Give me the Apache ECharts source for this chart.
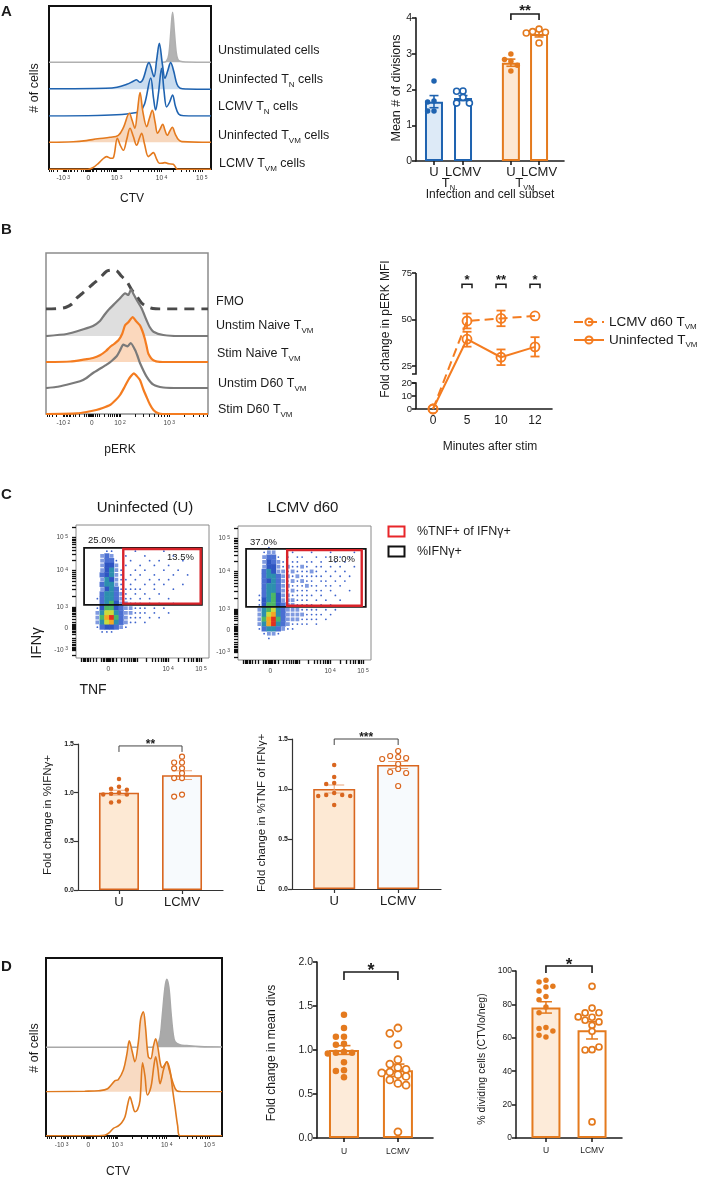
<!DOCTYPE html>
<html>
<head>
<meta charset="utf-8">
<title>Figure</title>
<script src="https://cdn.jsdelivr.net/npm/echarts@6/dist/echarts.min.js"></script>
<style>
  html, body { margin: 0; padding: 0; background: #fff; }
  #main { width: 703px; height: 1185px; }
</style>
</head>
<body>
<div id="main"></div>
<script>
var FONT = '"Liberation Sans", Arial, Helvetica, sans-serif'
var INK = '#1b1b1b'
var BLUE = '#1f63b0'
var OR_A = '#e47a1e'
var OR_B = '#f47c20'
var OR_C = '#d9661f'

// ---------- A: CTV histograms, [x as % of plot width, height above own baseline]
var ctvUnstim = [[0, 0], [70, 0], [72.5, 1], [74, 8], [75.2, 30], [76.3, 50], [77.3, 32], [78.5, 10], [79.5, 3], [81, 1], [85, 0.3], [100, 0]]
var ctvUninfTN = [[0, 0.5], [35, 1], [42, 2], [48, 5], [52, 8], [54, 9.5], [56, 7], [58, 10], [61.7, 26.7], [64.8, 12.7], [66.5, 30], [68.1, 46], [70, 25], [71.6, 11], [73.2, 18], [75.1, 26.7], [77, 18], [79, 5], [81, 1], [85, 0.3], [100, 0]]
var ctvLcmvTN = [[0, 0], [30, 0.5], [45, 1.5], [52, 3], [56, 4.5], [59, 12], [62.8, 38], [64.5, 18], [65.8, 6], [67.5, 22], [69.5, 47.7], [71, 25], [72.6, 9], [74.5, 14], [76.3, 21], [78, 10], [80, 2], [83, 0.3], [100, 0]]
var ctvUninfTVM = [[0, 0], [15, 0.5], [23, 1.7], [30, 3.5], [37.7, 5], [42.8, 7], [46, 15], [49.6, 29], [51.3, 22], [53, 14], [54.5, 30], [56.2, 49.7], [58, 30], [60.3, 15.7], [62, 24], [63.8, 32], [65.5, 20], [67, 9], [68.5, 13], [70.2, 18], [71.6, 12], [73, 7], [74.5, 11], [76.1, 15], [78, 8], [80, 2.5], [82, 0.7], [100, 0]]
var ctvLcmvTVM = [[0, 0], [24, 0], [27, 1.5], [30.5, 6], [33, 10], [35.6, 12.7], [38, 11], [39.7, 11.5], [42.2, 31], [44, 24], [45.9, 19], [48, 30], [50, 41], [52, 33], [54.1, 24], [55.8, 31], [57.2, 36], [59, 25], [61.3, 12.7], [63, 15], [64.4, 16.7], [66.5, 10], [68.1, 6], [70, 6.2], [71.6, 6.7], [74, 5.5], [76.7, 5], [78.8, 0.5], [80, 0], [100, 0]]
var ctvTickLabels = ['-10³', '0', '10³', '10⁴', '10⁵']

// ---------- A: mean number of divisions
var divCats = ['U', 'LCMV', 'U', 'LCMV']
var divSubsets = ['N', 'VM']
var divMean = [1.66, 1.76, 2.75, 3.55]
var divSem = [0.17, 0.07, 0.1, 0.08]
var divPts = [
  [2.24, 1.68, 1.65, 1.4, 1.4],
  [1.96, 1.95, 1.78, 1.62, 1.62],
  [2.99, 2.84, 2.79, 2.68, 2.52],
  [3.69, 3.62, 3.6, 3.58, 3.3]
]

// ---------- B: pERK histograms
var perkFMO = [[0, 0], [8, 0.5], [12, 1.5], [16, 5], [19, 11], [22, 15], [25, 19.3], [29, 25], [33.3, 31], [37.4, 37.7], [40.5, 39], [43.6, 38.3], [46.5, 33], [49.8, 27.7], [53, 19], [56, 12.7], [59, 6], [62, 2.7], [66, 0.5], [70, 0], [100, 0]]
var perkUnstimNaive = [[0, 0], [12.8, 2], [23, 6.7], [29, 10], [33.3, 15], [36, 21], [38.5, 26], [42.6, 32.7], [45.7, 37.7], [48.8, 42.7], [50.8, 41], [52.5, 46.7], [54, 42], [56, 36], [59, 27.7], [62, 16], [64, 9], [66.3, 4.3], [72.4, 1], [82.7, 0], [100, 0]]
var perkStimNaive = [[0, 0], [15, 0.5], [23, 2.3], [29, 4], [33.3, 6.7], [37, 11], [39.5, 15], [42, 18], [44.7, 21.7], [47, 28], [48.8, 36.7], [51, 40], [53.5, 45], [55.5, 41], [58, 36.7], [59.5, 31], [61, 23.3], [62.2, 15], [63.2, 8.3], [66.3, 1.7], [72, 0], [100, 0]]
var perkUnstimD60 = [[0, 0], [6, 1], [12.8, 3.3], [21, 6.7], [25, 10], [29, 15], [33, 19], [37.4, 23.3], [40.5, 27], [43.6, 31.7], [45.5, 37], [47.7, 43.3], [50.4, 41.7], [52.3, 45], [55, 38], [56.5, 32], [58, 25], [62, 11.7], [66.3, 3.3], [72.4, 0.5], [82.7, 0], [100, 0]]
var perkStimD60 = [[0, 0], [19, 0.7], [25, 2], [31, 4], [35, 6], [39.5, 9], [43, 14], [45.7, 19], [48.5, 27], [50.8, 34], [52.5, 38], [54.3, 40.7], [56, 38], [58, 34], [60, 25], [62, 17.3], [64, 10], [66.3, 4], [69.3, 0.7], [72, 0], [100, 0]]
var perkTickLabels = ['-10²', '0', '10²', '10³']

// ---------- B: pERK time course
var pTimes = ['0', '5', '10', '12']
var pLcmv = [0, 49.2, 50.6, 51.9]
var pLcmvErr = [0, 4, 4.2, 0]
var pUninf = [0, 39.4, 29.7, 35.3]
var pUninfErr = [0, 4, 4.2, 5.2]
var pTicks = [0, 10, 20, 25, 50, 75]
var pSig = ['*', '**', '*']

// ---------- C: IFNg / TNF density (rows top to bottom, 0 = empty, 9 = densest)
var flowU = [
  '0000000000000000000000000000', '0000000000000000000000000000', '0000000000000000000000000000',
  '0000000000000000000000000000', '0000000000000000000000000000',
  '0000001100001000001000000000', '0000023200100010000010000000', '0000023310010001010000100000',
  '0000024420100100100100000000', '0000024521001010001001000000', '0000034521010100100010010000',
  '0000025421101001010100000000', '0000035521010010101000100000', '0000024531111100100010000000',
  '0000035532101010010000000000', '0000135532110101000100000000', '0000035642211101010010000000',
  '0000146643221110101000000000', '0000257753221110100100000000', '0000268963211101010000000000',
  '0000257853211010000000000000', '0000134432100000000000000000', '0000011100000000000000000000',
  '0000000000000000000000000000', '0000000000000000000000000000', '0000000000000000000000000000',
  '0000000000000000000000000000', '0000000000000000000000000000'
]
var flowL = [
  '0000000000000000000000000000', '0000000000000000000000000000', '0000000000000000000000000000',
  '0000000000000000000000000000',
  '0000001000000000000000000000', '0000012200010001000100001000', '0000023310101100101001010000',
  '0000024321011011010010100000', '0000024421211210110101001000', '0000035422121112101010100000',
  '0000035532212111110101010000', '0000034532121211011010100000', '0000035532211121101101000000',
  '0000035532121110110100010000', '0000135642211111010010000000', '0000145642221110101001000000',
  '0000146643221111010100000000', '0000256753222111101010000000', '0000257853222211110100000000',
  '0000268963222111101000000000', '0000258953211110100000000000', '0000135532110000000000000000',
  '0000012210000000000000000000', '0000001000000000000000000000',
  '0000000000000000000000000000', '0000000000000000000000000000', '0000000000000000000000000000',
  '0000000000000000000000000000'
]
// gates [x1, y1, x2, y2] in density-cell units (y from bottom)
var gateIFNg = [[1.7, 11.2, 26.5, 23.2], [1.7, 11.1, 26.9, 23.2]]
var gateTNF = [[9.7, 11.2, 26.5, 23.2], [10.1, 11.1, 26.3, 23.2]]
var pctIFNg = ['25.0%', '37.0%']
var pctTNF = ['13.5%', '18.0%']
var flowYLabels = ['-10³', '0', '10³', '10⁴', '10⁵']
var flowXLabels = ['0', '10⁴', '10⁵']

// ---------- C: fold change bars
var ifngU = [1.14, 1.06, 1.04, 1.03, 1.0, 0.99, 0.98, 0.98, 0.91, 0.9]
var ifngL = [1.37, 1.31, 1.31, 1.25, 1.25, 1.2, 1.15, 1.15, 0.98, 0.96]
var ifngMean = [1.0, 1.18]
var ifngSem = [0.025, 0.045]
var tnfU = [1.24, 1.12, 1.06, 1.05, 0.96, 0.94, 0.94, 0.93, 0.93, 0.84]
var tnfL = [1.38, 1.33, 1.32, 1.31, 1.3, 1.25, 1.2, 1.17, 1.16, 1.03]
var tnfMean = [1.0, 1.24]
var tnfSem = [0.04, 0.035]

// ---------- D
var ctvD_unstim = [[0, 0], [60, 0], [63, 2], [64.8, 10], [66, 30], [67.5, 58], [68.6, 68], [69.8, 60], [71, 35], [72.2, 14], [73.3, 5.7], [76, 2.5], [80, 1.7], [87.5, 0.7], [100, 0.3]]
var ctvD_uninf = [[0, 0], [22, 0.5], [30, 1], [35, 3], [39.2, 11], [41, 12], [44, 22], [46, 38], [47.3, 51], [49, 40], [50.5, 30], [52.5, 50], [53.8, 73], [55.3, 80], [56.5, 65], [58.1, 35], [59.5, 33], [61, 45], [62.3, 53], [63.5, 45], [65, 28], [66, 24], [67.5, 27], [68.6, 30], [70, 22], [72.3, 8], [74.2, 1], [77, 0], [100, 0]]
var ctvD_lcmv = [[0, 0], [30, 0], [33.5, 0.5], [36, 3], [38.3, 7.3], [41, 9.7], [43, 13], [44.9, 19], [46.5, 32], [47.7, 39], [49, 32], [50.6, 24], [52, 26], [53.4, 35], [54.9, 73], [56.2, 60], [57.6, 40.7], [59, 45], [60, 52], [61.3, 70], [62.3, 79], [63.5, 68], [64.8, 52], [65.8, 58], [66.7, 65.7], [68.6, 74], [69.8, 70], [70.8, 62], [72, 45], [73.3, 29], [74.8, 10], [76.1, 0], [100, 0]]
var divsU = [1.4, 1.25, 1.15, 1.15, 1.07, 1.06, 0.98, 0.97, 0.97, 0.96, 0.86, 0.77, 0.76, 0.69]
var divsL = [1.25, 1.19, 1.06, 0.89, 0.84, 0.8, 0.78, 0.75, 0.74, 0.72, 0.7, 0.66, 0.62, 0.6, 0.07]
var divsMean = [1.0, 0.77]
var divsSem = [0.05, 0.07]
var dividU = [94.4, 93.4, 90.4, 90.8, 88.0, 84.8, 82.8, 78.4, 75.0, 66.1, 65.5, 64.1, 60.5, 61.5]
var dividL = [90.8, 77.8, 74.9, 75.0, 72.3, 72.5, 70.5, 69.5, 67.5, 63.9, 52.9, 52.7, 54.5, 9.6]
var dividMean = [78.2, 64.5]
var dividSem = [3.4, 5.2]

var grids = [], xAxes = [], yAxes = [], series = [], G = []
function addGrid(g) { grids.push(Object.assign({show: false}, g)); return grids.length - 1 }
function addX(o) { xAxes.push(o); return xAxes.length - 1 }
function addY(o) { yAxes.push(o); return yAxes.length - 1 }
function off(gi, min, max) { return {type: 'value', gridIndex: gi, min: min, max: max, show: false} }
function nearest(arr, v) {
  var b = 0
  arr.forEach(function (a, i) { if (Math.abs(a - v) < Math.abs(arr[b] - v)) b = i })
  return b
}
function supLabel(s) {
  var m = s.match(/^(-?10)(.)$/)
  if (!m) return '{n|' + s + '}'
  return '{n|' + m[1] + '}{e|' + ({'²': 2, '³': 3, '⁴': 4, '⁵': 5})[m[2]] + '}'
}
var supRich = {n: {fontSize: 6.5, color: '#444', fontFamily: FONT}, e: {fontSize: 5, color: '#444', fontFamily: FONT, verticalAlign: 'top', padding: [0, 0, 0, 1.5]}}

// minor ticks of a cytometry (biexponential) axis
function cytoTicks(neg, zero, e1, ups, max) {
  var out = [zero], fr = [0.01, 0.02, 0.04, 0.06, 0.1, 0.2, 0.3, 0.4, 0.5, 0.6, 0.7, 0.8, 0.9]
  fr.forEach(function (f) {
    var g = Math.log10(1 + 9 * f)
    out.push(zero + (e1 - zero) * g)
    if (neg !== null) out.push(zero - (zero - neg) * g)
  })
  if (neg !== null) for (var j = 1; j < 10; j++) out.push(neg - Math.log10(j) * (zero - neg) * 0.8)
  var dec = [e1].concat(ups)
  for (var i = 0; i < dec.length; i++) {
    var w = i < dec.length - 1 ? dec[i + 1] - dec[i] : dec[i] - dec[i - 1]
    for (var k = 1; k < 10; k++) out.push(dec[i] + Math.log10(k) * w)
  }
  return out.filter(function (v) { return v >= 0 && v <= max })
}

function histPanel(box, curves, ax) {
  curves.forEach(function (c, i) {
    var h = c.base - box.top
    var gi = addGrid({left: box.left, top: box.top, width: box.width, height: h})
    var xi = addX(off(gi, 0, 100)), yi = addY(off(gi, 0, h))
    series.push({type: 'line', xAxisIndex: xi, yAxisIndex: yi, data: c.data, smooth: c.smooth || 0.35,
      symbol: 'none', silent: true, z: 3 + i,
      lineStyle: {color: c.line, width: c.width || 1.6, type: c.dash || 'solid'},
      areaStyle: c.fill ? {color: c.fill, opacity: 1} : undefined})
  })
  var fg = addGrid({show: true, left: box.left, top: box.top, width: box.width, height: box.height,
    borderColor: box.border, borderWidth: box.bw, backgroundColor: 'transparent'})
  addX({type: 'value', gridIndex: fg, min: 0, max: 100, position: 'bottom',
    axisLine: {show: false}, splitLine: {show: false},
    axisTick: {show: true, customValues: ax.ticks, length: 3, lineStyle: {color: '#111', width: 1}},
    axisLabel: {customValues: ax.pos, formatter: function (v) { return supLabel(ax.labels[nearest(ax.pos, v)]) },
      rich: supRich, margin: 6}})
  addY(off(fg, 0, 1))
}

function swarm(vals, gap) {
  var placed = [], order = [0, -1, 1, -2, 2, -3, 3, -4, 4]
  return vals.map(function (v) {
    for (var k = 0; k < order.length; k++) {
      var s = order[k]
      var free = placed.every(function (p) { return p.s !== s || Math.abs(p.v - v) >= gap })
      if (free) { placed.push({s: s, v: v}); return s }
    }
    return 0
  })
}

function bracket(xi, yi, rows, labels, st) {
  series.push({type: 'custom', xAxisIndex: xi, yAxisIndex: yi, data: rows, silent: true, z: 20, clip: false,
    renderItem: function (p, api) {
      var a = api.coord([api.value(0), api.value(2)]), b = api.coord([api.value(1), api.value(2)])
      var x1 = a[0] - (st.half || 0), x2 = b[0] + (st.half || 0), y = a[1]
      return {type: 'group', children: [
        {type: 'polyline', shape: {points: [[x1, y + st.drop], [x1, y], [x2, y], [x2, y + st.drop]]},
          style: {stroke: st.color, lineWidth: st.width, fill: null}},
        {type: 'text', style: {text: labels[p.dataIndex], x: (x1 + x2) / 2, y: y + st.dy, align: 'center',
          verticalAlign: 'bottom', fill: INK, font: st.font}}
      ]}
    }})
}

function barPanel(c) {
  var gi = addGrid(c.box)
  var axStyle = {color: c.axis.color, width: c.axis.width}
  var xi = addX({type: 'value', gridIndex: gi, min: c.x[0], max: c.x[1],
    axisLine: {onZero: false, lineStyle: axStyle},
    axisTick: {customValues: c.pos, length: 4, lineStyle: axStyle},
    axisLabel: {customValues: c.pos, formatter: function (v) { return c.cats[nearest(c.pos, v)] },
      fontSize: c.cat.size, fontFamily: FONT, color: INK, margin: c.cat.margin},
    splitLine: {show: false}})
  var yi = addY({type: 'value', gridIndex: gi, min: c.y[0], max: c.y[1], interval: c.y[2],
    axisLine: {show: true, onZero: false, lineStyle: axStyle},
    axisTick: {show: true, length: 4, lineStyle: axStyle},
    axisLabel: {fontSize: c.tick.size, fontWeight: c.tick.weight || 'normal', fontFamily: FONT, color: INK,
      margin: 4, formatter: c.tick.fmt},
    splitLine: {show: false}})
  series.push({type: 'bar', xAxisIndex: xi, yAxisIndex: yi, barWidth: c.barW, silent: true, z: 2,
    data: c.pos.map(function (p, i) {
      return {value: [p, c.means[i]], itemStyle: {color: c.fills[i], borderColor: c.strokes[i], borderWidth: c.lw}}
    })})
  series.push({type: 'custom', xAxisIndex: xi, yAxisIndex: yi, silent: true, z: 3,
    data: c.pos.map(function (p, i) { return [p, c.means[i] - c.sems[i], c.means[i] + c.sems[i]] }),
    renderItem: function (params, api) {
      var lo = api.coord([api.value(0), api.value(1)]), hi = api.coord([api.value(0), api.value(2)])
      var col = c.errColor || c.strokes[params.dataIndex], h = c.cap / 2
      function st() { return {stroke: col, lineWidth: c.errW} }
      return {type: 'group', children: [
        {type: 'line', shape: {x1: lo[0], y1: lo[1], x2: hi[0], y2: hi[1]}, style: st()},
        {type: 'line', shape: {x1: hi[0] - h, y1: hi[1], x2: hi[0] + h, y2: hi[1]}, style: st()},
        {type: 'line', shape: {x1: lo[0] - h, y1: lo[1], x2: lo[0] + h, y2: lo[1]}, style: st()}
      ]}
    }})
  c.pts.forEach(function (vals, i) {
    var slots = swarm(vals, c.gap)
    series.push({type: 'scatter', xAxisIndex: xi, yAxisIndex: yi, silent: true, z: 4,
      symbolSize: c.hollow[i] ? c.dot + 0.5 : c.dot,
      itemStyle: c.hollow[i] ? {color: '#fff', borderColor: c.strokes[i], borderWidth: c.ring, opacity: 1}
        : {color: c.strokes[i], opacity: 1},
      data: vals.map(function (v, k) { return [c.pos[i] + slots[k] * c.step, v] })})
  })
  if (c.sig) bracket(xi, yi, c.sig, c.sigLab, c.sigStyle)
  return {grid: gi, x: xi, y: yi}
}

// density colours: sparse cells are drawn as single events, dense ones as filled cells
var DENS = ['', '#3d63cc', '#7f9ae0', '#4a6fd2', '#2e55c2', '#2c8fae', '#4cb765', '#cbdb3a', '#f3a623', '#e2301e']
function flowPanel(box, rows, k) {
  var n = 28, cw = box.width / n, ch = box.height / n
  var gi = addGrid({show: true, left: box.left, top: box.top, width: box.width, height: box.height,
    borderColor: '#8a8a8a', borderWidth: 1})
  var tickSt = {color: '#111', width: 1.3}
  var xPos = [6.8, 19.4, 26.3], yPos = [1.7, 6.3, 10.6, 18.5, 25.4]
  var xi = addX({type: 'value', gridIndex: gi, min: 0, max: n, axisLine: {show: false}, splitLine: {show: false},
    axisTick: {customValues: cytoTicks(1.2, 6.8, 12.8, [19.4, 26.3], n), length: 4, lineStyle: tickSt},
    axisLabel: {customValues: xPos, formatter: function (v) { return supLabel(flowXLabels[nearest(xPos, v)]) },
      rich: supRich, margin: 8}})
  var yi = addY({type: 'value', gridIndex: gi, min: 0, max: n, axisLine: {show: false}, splitLine: {show: false},
    axisTick: {customValues: cytoTicks(1.7, 6.3, 10.6, [18.5, 25.4], n), length: 4, lineStyle: tickSt},
    axisLabel: {customValues: yPos, formatter: function (v) { return supLabel(flowYLabels[nearest(yPos, v)]) },
      rich: supRich, margin: 8}})
  var cells = []
  rows.forEach(function (row, r) {
    for (var c = 0; c < row.length; c++) {
      var d = +row[c]
      if (d) cells.push([c + 0.5, n - r - 0.5, d])
    }
  })
  series.push({type: 'scatter', xAxisIndex: xi, yAxisIndex: yi, data: cells, silent: true, z: 2,
    symbol: function (v) { return v[2] === 1 ? 'circle' : 'rect' },
    symbolSize: function (v) { return v[2] === 1 ? 1.8 : v[2] === 2 ? [cw * 0.8, ch * 0.8] : [cw + 0.4, ch + 0.4] },
    itemStyle: {opacity: 1, color: function (p) { return DENS[p.value[2]] }}})
  series.push({type: 'custom', xAxisIndex: xi, yAxisIndex: yi, silent: true, z: 5, clip: false,
    data: [gateIFNg[k], gateTNF[k]],
    renderItem: function (p, api) {
      var a = api.coord([api.value(0), api.value(3)]), b = api.coord([api.value(2), api.value(1)])
      var red = p.dataIndex === 1, inset = red ? 1.2 : 0
      var rect = {type: 'rect', shape: {x: a[0] + inset, y: a[1] + inset, width: b[0] - a[0] - 2 * inset, height: b[1] - a[1] - 2 * inset},
        style: {fill: null, stroke: red ? '#d8232a' : '#141414', lineWidth: red ? 2.4 : 1.8}}
      var t = red
        ? {type: 'text', style: {text: pctTNF[k], x: b[0] - 8, y: a[1] + 5, align: 'right', verticalAlign: 'top', fill: INK, font: '9.5px ' + FONT}}
        : {type: 'text', style: {text: pctIFNg[k], x: a[0] + 4, y: a[1] - 2, align: 'left', verticalAlign: 'bottom', fill: INK, font: '9.5px ' + FONT}}
      return {type: 'group', children: [rect, t]}
    }})
}

function label(x, y, text, size, o) {
  o = o || {}
  var style = {text: text, x: 0, y: 0, fill: INK, fontSize: size, fontFamily: FONT, fontWeight: o.bold ? 'bold' : 'normal',
    align: o.align || 'left', verticalAlign: 'middle'}
  if (o.sub) style.rich = {
    a: {fontSize: size, fontFamily: FONT, fill: INK},
    s: {fontSize: Math.round(size * 0.6), fontFamily: FONT, fill: INK, verticalAlign: 'bottom', padding: [0, 0, -2, 0]}
  }
  G.push({type: 'text', x: x, y: y, rotation: o.rot ? Math.PI / 2 : 0, silent: true, style: style})
}

// ================= Panel A
histPanel({left: 49, top: 6, width: 162, height: 163, border: '#111', bw: 2}, [
  {data: ctvUnstim, base: 62.3, line: '#b0b0b0', fill: '#b3b3b3'},
  {data: ctvUninfTN, base: 89.3, line: BLUE, fill: '#c9dcef'},
  {data: ctvLcmvTN, base: 116, line: BLUE},
  {data: ctvUninfTVM, base: 142.3, line: OR_A, fill: '#f7d7bd'},
  {data: ctvLcmvTVM, base: 169.3, line: OR_A}
], {pos: [8.8, 24.3, 41.8, 69.5, 94.3], labels: ctvTickLabels, ticks: cytoTicks(8.8, 24.3, 41.8, [69.5, 94.3], 100)})

var aBar = barPanel({
  box: {left: 416, top: 18, width: 148, height: 143},
  x: [0.38, 5.48], y: [0, 4, 1], pos: [1, 2, 3.65, 4.62], cats: divCats,
  means: divMean, sems: divSem, pts: divPts,
  fills: ['#ddeaf7', '#ffffff', '#fde8d4', '#ffffff'], strokes: [BLUE, BLUE, OR_A, OR_A],
  hollow: [false, true, false, true],
  barW: 18, lw: 2, dot: 5.5, ring: 1.6, gap: 0.16, step: 0.22, cap: 9, errW: 1.6,
  axis: {color: INK, width: 1.6}, tick: {size: 10.5}, cat: {size: 13, margin: 5},
  sig: [[3.65, 4.62, 4.11]], sigLab: ['**'], sigStyle: {color: INK, width: 1.6, drop: 6, dy: 4, font: 'bold 15px ' + FONT}
})
addX({type: 'value', gridIndex: aBar.grid, min: 0.38, max: 5.48, position: 'bottom',
  axisLine: {show: false}, axisTick: {show: false}, splitLine: {show: false},
  axisLabel: {customValues: [1.5, 4.13], margin: 16,
    formatter: function (v) { return '{a|T}{s|' + divSubsets[nearest([1.5, 4.13], v)] + '}' },
    rich: {a: {fontSize: 13, fontFamily: FONT, color: INK}, s: {fontSize: 7.5, fontFamily: FONT, color: INK, verticalAlign: 'bottom', padding: [0, 0, -2, 0]}}}})

label(1, 12, 'A', 15, {bold: true})
label(218, 51, 'Unstimulated cells', 12.5)
label(218, 80, 'Uninfected T{s|N} cells', 12.5, {sub: true})
label(218, 107, 'LCMV T{s|N} cells', 12.5, {sub: true})
label(218, 136, 'Uninfected T{s|VM} cells', 12.5, {sub: true})
label(219, 164, 'LCMV T{s|VM} cells', 12.5, {sub: true})
label(35, 88, '# of cells', 12.5, {rot: true, align: 'center'})
label(132, 199, 'CTV', 12, {align: 'center'})
label(397, 88, 'Mean # of divisions', 12.5, {rot: true, align: 'center'})
label(490, 195, 'Infection and cell subset', 12, {align: 'center'})

// ================= Panel B
histPanel({left: 46, top: 253, width: 162, height: 161, border: '#8c8c8c', bw: 1.5}, [
  {data: perkFMO, base: 309, line: '#4a4a4a', width: 3, dash: [10, 7], smooth: 0.3},
  {data: perkUnstimNaive, base: 336, line: '#7a7a7a', fill: '#dedede', width: 2.2, smooth: 0.2},
  {data: perkStimNaive, base: 362, line: OR_B, fill: '#fbd8bd', width: 2.2, smooth: 0.2},
  {data: perkUnstimD60, base: 388, line: '#7a7a7a', width: 2.2, smooth: 0.2},
  {data: perkStimD60, base: 414, line: OR_B, width: 2.2, smooth: 0.2}
], {pos: [10.7, 28.2, 45.7, 76.1], labels: perkTickLabels, ticks: cytoTicks(10.7, 28.2, 45.7, [76.1], 100)})

function yMapB(v) { return v <= 20 ? v * 1.3 : 43 + (v - 25) * 1.86 }
var gB = addGrid({left: 416, top: 273, width: 136, height: 136})
var xB = addX({type: 'category', gridIndex: gB, data: pTimes, boundaryGap: true,
  axisLine: {lineStyle: {color: INK, width: 1.6}},
  axisTick: {alignWithLabel: true, length: 4, lineStyle: {color: INK, width: 1.6}},
  axisLabel: {fontSize: 12, fontFamily: FONT, color: INK, margin: 6}})
var bTickPos = pTicks.map(yMapB)
var yB = addY({type: 'value', gridIndex: gB, min: 0, max: yMapB(75), axisLine: {show: false}, splitLine: {show: false},
  axisTick: {show: true, customValues: bTickPos, length: 4, lineStyle: {color: INK, width: 1.6}},
  axisLabel: {customValues: bTickPos, formatter: function (v) { return String(pTicks[nearest(bTickPos, v)]) },
    fontSize: 9.5, fontFamily: FONT, color: INK, margin: 4}})
series.push({type: 'custom', xAxisIndex: xB, yAxisIndex: yB, data: [[0, 0]], silent: true, z: 5, clip: false,
  renderItem: function (p, api) {
    var x = p.coordSys.x
    var y0 = api.coord([0, 0])[1], y20 = api.coord([0, yMapB(20)])[1]
    var y25 = api.coord([0, yMapB(25)])[1] + 8, y75 = api.coord([0, yMapB(75)])[1]
    function st() { return {stroke: INK, lineWidth: 1.6, fill: null} }
    return {type: 'group', children: [
      {type: 'polyline', shape: {points: [[x - 4, y20], [x, y20], [x, y0]]}, style: st()},
      {type: 'polyline', shape: {points: [[x - 4, y25], [x, y25], [x, y75]]}, style: st()}
    ]}
  }})
function errB(vals, errs) {
  var rows = []
  vals.forEach(function (v, i) { if (errs[i] > 0) rows.push([i, yMapB(v - errs[i]), yMapB(v + errs[i])]) })
  series.push({type: 'custom', xAxisIndex: xB, yAxisIndex: yB, data: rows, silent: true, z: 6,
    renderItem: function (p, api) {
      var lo = api.coord([api.value(0), api.value(1)]), hi = api.coord([api.value(0), api.value(2)])
      function st() { return {stroke: OR_B, lineWidth: 1.8} }
      return {type: 'group', children: [
        {type: 'line', shape: {x1: lo[0], y1: lo[1], x2: hi[0], y2: hi[1]}, style: st()},
        {type: 'line', shape: {x1: hi[0] - 4.5, y1: hi[1], x2: hi[0] + 4.5, y2: hi[1]}, style: st()},
        {type: 'line', shape: {x1: lo[0] - 4.5, y1: lo[1], x2: lo[0] + 4.5, y2: lo[1]}, style: st()}
      ]}
    }})
}
errB(pLcmv, pLcmvErr)
errB(pUninf, pUninfErr)
series.push({name: 'LCMV d60', type: 'line', xAxisIndex: xB, yAxisIndex: yB, data: pLcmv.map(yMapB), z: 7,
  symbol: 'circle', symbolSize: 9, lineStyle: {color: OR_B, width: 2, type: [9, 5]},
  itemStyle: {color: 'rgba(255,255,255,0)', borderColor: OR_B, borderWidth: 1.8}})
series.push({name: 'Uninfected', type: 'line', xAxisIndex: xB, yAxisIndex: yB, data: pUninf.map(yMapB), z: 7,
  symbol: 'circle', symbolSize: 9, lineStyle: {color: OR_B, width: 2},
  itemStyle: {color: 'rgba(255,255,255,0)', borderColor: OR_B, borderWidth: 1.8}})
bracket(xB, yB, [[1, 1, yMapB(69)], [2, 2, yMapB(69)], [3, 3, yMapB(69)]], pSig,
  {color: INK, width: 1.5, drop: 4, half: 5, dy: 3, font: 'bold 13px ' + FONT})

label(1, 230, 'B', 15, {bold: true})
label(216, 302, 'FMO', 12.5)
label(216, 326, 'Unstim Naive T{s|VM}', 12.5, {sub: true})
label(217, 354, 'Stim Naive T{s|VM}', 12.5, {sub: true})
label(218, 384, 'Unstim D60 T{s|VM}', 12.5, {sub: true})
label(218, 410, 'Stim D60 T{s|VM}', 12.5, {sub: true})
label(120, 450, 'pERK', 12, {align: 'center'})
label(386, 329, 'Fold change in pERK MFI', 12, {rot: true, align: 'center'})
label(490, 447, 'Minutes after stim', 12, {align: 'center'})

// ================= Panel C
flowPanel({left: 76, top: 525, width: 133, height: 133}, flowU, 0)
flowPanel({left: 238, top: 526, width: 133, height: 134}, flowL, 1)

barPanel({
  box: {left: 78, top: 744, width: 145, height: 146},
  x: [0.35, 2.65], y: [0, 1.5, 0.5], pos: [1, 2], cats: ['U', 'LCMV'],
  means: ifngMean, sems: ifngSem, pts: [ifngU, ifngL],
  fills: ['#fde9d4', '#f7fafd'], strokes: [OR_C, OR_C], hollow: [false, true], errColor: '#eba579',
  barW: 40, lw: 1.6, dot: 4.5, ring: 1.2, gap: 0.05, step: 0.125, cap: 20, errW: 1,
  axis: {color: '#333', width: 1.2}, tick: {size: 7, weight: 'bold', fmt: function (v) { return v.toFixed(1) }},
  cat: {size: 13, margin: 6},
  sig: [[1, 2, 1.48]], sigLab: ['**'], sigStyle: {color: '#444', width: 1, drop: 6, dy: 5, font: 'bold 12px ' + FONT}
})
barPanel({
  box: {left: 292, top: 739, width: 149, height: 150},
  x: [0.34, 2.67], y: [0, 1.5, 0.5], pos: [1, 2], cats: ['U', 'LCMV'],
  means: tnfMean, sems: tnfSem, pts: [tnfU, tnfL],
  fills: ['#fde9d4', '#f7fafd'], strokes: [OR_C, OR_C], hollow: [false, true], errColor: '#eba579',
  barW: 42, lw: 1.6, dot: 4.5, ring: 1.2, gap: 0.05, step: 0.125, cap: 20, errW: 1,
  axis: {color: '#333', width: 1.2}, tick: {size: 7, weight: 'bold', fmt: function (v) { return v.toFixed(1) }},
  cat: {size: 13, margin: 6},
  sig: [[1, 2, 1.5]], sigLab: ['***'], sigStyle: {color: '#444', width: 1, drop: 6, dy: 5, font: 'bold 12px ' + FONT}
})

label(1, 495, 'C', 15, {bold: true})
label(145, 508, 'Uninfected (U)', 15, {align: 'center'})
label(303, 508, 'LCMV d60', 15, {align: 'center'})
G.push({type: 'rect', shape: {x: 388.5, y: 526.5, width: 16, height: 10}, style: {fill: null, stroke: '#e8262a', lineWidth: 2}, silent: true})
G.push({type: 'rect', shape: {x: 388.5, y: 546.5, width: 16, height: 10}, style: {fill: null, stroke: '#111', lineWidth: 2}, silent: true})
label(417, 532, '%TNF+ of IFNγ+', 12.5)
label(417, 552, '%IFNγ+', 12.5)
label(37, 643, 'IFNγ', 15, {rot: true, align: 'center'})
label(93, 690, 'TNF', 14, {align: 'center'})
label(48, 815, 'Fold change in %IFNγ+', 11.5, {rot: true, align: 'center'})
label(262, 813, 'Fold change in %TNF of IFNγ+', 11.5, {rot: true, align: 'center'})

// ================= Panel D
histPanel({left: 46, top: 958, width: 176, height: 178, border: '#111', bw: 2}, [
  {data: ctvD_unstim, base: 1047.3, line: '#a8a8a8', fill: '#a9a9a9'},
  {data: ctvD_uninf, base: 1091.7, line: '#df7a1f', fill: '#f8dac2'},
  {data: ctvD_lcmv, base: 1135.7, line: '#df7a1f'}
], {pos: [8.9, 24, 40.5, 68.6, 92.8], labels: ctvTickLabels, ticks: cytoTicks(8.9, 24, 40.5, [68.6, 92.8], 100)})

barPanel({
  box: {left: 317, top: 962, width: 116, height: 176},
  x: [0.5, 2.65], y: [0, 2, 0.5], pos: [1, 2], cats: ['U', 'LCMV'],
  means: divsMean, sems: divsSem, pts: [divsU, divsL],
  fills: ['#fdebd9', '#ffffff'], strokes: [OR_A, OR_A], hollow: [false, true],
  barW: 30, lw: 2, dot: 6.5, ring: 1.8, gap: 0.075, step: 0.15, cap: 13, errW: 1.6,
  axis: {color: INK, width: 1.6}, tick: {size: 10.5, fmt: function (v) { return v.toFixed(1) }},
  cat: {size: 8.5, margin: 9},
  sig: [[1, 2, 1.886]], sigLab: ['*'], sigStyle: {color: INK, width: 1.6, drop: 8, dy: 8, font: 'bold 18px ' + FONT}
})
barPanel({
  box: {left: 516, top: 971, width: 106, height: 167},
  x: [0.35, 2.65], y: [0, 100, 20], pos: [1, 2], cats: ['U', 'LCMV'],
  means: dividMean, sems: dividSem, pts: [dividU, dividL],
  fills: ['#fdebd9', '#ffffff'], strokes: [OR_A, OR_A], hollow: [false, true],
  barW: 29, lw: 2, dot: 5.5, ring: 1.7, gap: 3.5, step: 0.15, cap: 12, errW: 1.5,
  axis: {color: INK, width: 1.5}, tick: {size: 8.5}, cat: {size: 8.5, margin: 8},
  sig: [[1, 2, 103]], sigLab: ['*'], sigStyle: {color: INK, width: 1.6, drop: 7, dy: 8, font: 'bold 17px ' + FONT}
})

label(1, 967, 'D', 15, {bold: true})
label(35, 1048, '# of cells', 12.5, {rot: true, align: 'center'})
label(118, 1172, 'CTV', 12, {align: 'center'})
label(272, 1053, 'Fold change in mean divs', 12, {rot: true, align: 'center'})
label(482, 1059, '% dividing cells (CTVlo/neg)', 10.5, {rot: true, align: 'center'})

var chart = echarts.init(document.getElementById('main'))
chart.setOption({
  animation: false,
  backgroundColor: '#ffffff',
  textStyle: {fontFamily: FONT},
  grid: grids,
  xAxis: xAxes,
  yAxis: yAxes,
  series: series,
  legend: {
    left: 568, top: 310, orient: 'vertical', itemWidth: 30, itemHeight: 9, itemGap: 2,
    data: ['LCMV d60', 'Uninfected'], selectedMode: false,
    formatter: function (n) { return '{a|' + n + ' T}{s|VM}' },
    textStyle: {rich: {
      a: {fontSize: 13.5, fontFamily: FONT, color: INK},
      s: {fontSize: 8, fontFamily: FONT, color: INK, verticalAlign: 'bottom', padding: [0, 0, -2, 0]}
    }}
  },
  graphic: {elements: G}
})
</script>
</body>
</html>
